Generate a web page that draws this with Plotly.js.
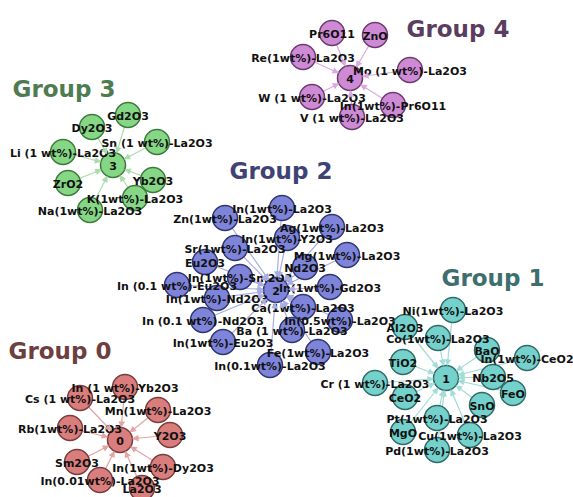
<!DOCTYPE html>
<html><head><meta charset="utf-8">
<script src="https://cdn.plot.ly/plotly-3.0.1.min.js"></script>
<style>html,body{margin:0;padding:0;background:#fff;}</style>
</head><body><div id="chart" style="width:573px;height:497px;"></div>
<script>
// ---- data ----
const groupNames = ["Group 0","Group 1","Group 2","Group 3","Group 4"];
const hubLabels = ["0","1","2","3","4"];
const hubX = [120, 446, 276, 113, 350];
const hubY = [440, 378, 290, 165, 78];
const titleX = [60, 493, 281, 64, 458];
const titleY = [353, 280, 173, 91, 31];

const g0Names = ["In (1 wt%)-Yb2O3","Cs (1 wt%)-La2O3","Mn(1wt%)-La2O3","Rb(1wt%)-La2O3","Y2O3","Sm2O3","In(1wt%)-Dy2O3","In(0.01wt%)-La2O3","La2O3"];
const g0X = [125, 80, 158, 70, 170, 77, 163, 100, 142];
const g0Y = [387, 398, 410, 428, 435, 462, 467, 480, 488];

const g1Names = ["Ni(1wt%)-La2O3","Al2O3","Co(1wt%)-La2O3","BaO","In(1wt%)-CeO2","TiO2","Nb2O5","Cr (1 wt%)-La2O3","CeO2","FeO","SnO","Pt(1wt%)-La2O3","MgO","Cu(1wt%)-La2O3","Pd(1wt%)-La2O3"];
const g1X = [453, 405, 438, 487, 527, 403, 493, 375, 405, 513, 482, 437, 403, 470, 437];
const g1Y = [310, 327, 338, 350, 358, 362, 377, 383, 397, 393, 405, 418, 432, 435, 450];

const g2Names = ["In(1wt%)-La2O3","Zn(1wt%)-La2O3","Ag(1wt%)-La2O3","In(1wt%)-Y2O3","Sr(1wt%)-La2O3","Mg(1wt%)-La2O3","Eu2O3","Nd2O3","In(1wt%)-Sm2O3","In (0.1 wt%)-Eu2O3","In(1wt%)-Gd2O3","In(1wt%)-Nd2O3","Ca(1wt%)-La2O3","In (0.1 wt%)-Nd2O3","In(0.5wt%)-La2O3","Ba (1 wt%)-La2O3","In(1wt%)-Eu2O3","Fe(1wt%)-La2O3","In(0.1wt%)-La2O3"];
const g2X = [282, 225, 332, 287, 235, 347, 205, 305, 240, 177, 330, 217, 303, 203, 340, 292, 223, 318, 270];
const g2Y = [208, 218, 227, 238, 248, 255, 262, 267, 277, 285, 287, 298, 307, 320, 320, 330, 342, 352, 365];

const g3Names = ["Gd2O3","Dy2O3","Sn (1 wt%)-La2O3","Li (1 wt%)-La2O3","ZrO2","Yb2O3","K(1wt%)-La2O3","Na(1wt%)-La2O3"];
const g3X = [128, 92, 157, 63, 68, 153, 135, 90];
const g3Y = [115, 127, 142, 152, 183, 180, 198, 210];

const g4Names = ["Pr6O11","ZnO","Re(1wt%)-La2O3","Mo (1 wt%)-La2O3","W (1 wt%)-La2O3","In(1wt%)-Pr6O11","V (1 wt%)-La2O3"];
const g4X = [332, 375, 303, 410, 312, 393, 352];
const g4Y = [33, 35, 57, 70, 97, 105, 117];

// ---- styles ----
const fillCol = ["#d97d7d","#74d1cc","#7d84da","#85d685","#cf8ad6"];
const lineCol = ["#7a3c3c","#2f6b69","#30366f","#3c7a3c","#6b3a6e"];
const edgeCol = ["#e3a5a5","#a3dcd8","#a9addf","#abdcab","#dba9df"];
const titleCol = ["#6e3f40","#3e6e6d","#3e4374","#4e7b4f","#5b3d60"];

const groupsNames = [g0Names,g1Names,g2Names,g3Names,g4Names];
const groupsX = [g0X,g1X,g2X,g3X,g4X];
const groupsY = [g0Y,g1Y,g2Y,g3Y,g4Y];

const FONT = "DejaVu Sans";
const R = 12;
const traces = [];
const annotations = [];

// edges (lines, under nodes)
for (let g = 0; g < 5; g++) {
  const ex = [], ey = [];
  groupsX[g].forEach((x, i) => { ex.push(x, hubX[g], null); ey.push(groupsY[g][i], hubY[g], null); });
  traces.push({type:'scatter', mode:'lines', x:ex, y:ey, line:{color:edgeCol[g], width:1.2}, hoverinfo:'skip', showlegend:false});
}
// nodes
for (let g = 0; g < 5; g++) {
  traces.push({type:'scatter', mode:'markers', x:groupsX[g].concat([hubX[g]]), y:groupsY[g].concat([hubY[g]]),
    marker:{size:2*R+1, color:fillCol[g], line:{color:lineCol[g], width:1.5}}, hoverinfo:'skip', showlegend:false});
}
// labels
for (let g = 0; g < 5; g++) {
  traces.push({type:'scatter', mode:'text', x:groupsX[g].concat([hubX[g]]), y:groupsY[g].map(v=>v+2).concat([hubY[g]+2]),
    text:groupsNames[g].concat([hubLabels[g]]), textposition:'middle center',
    textfont:{family:FONT, size:11, color:'#111', weight:'bold'}, hoverinfo:'skip', showlegend:false});
}
// titles
traces.push({type:'scatter', mode:'text', x:titleX, y:titleY, text:groupNames, textposition:'middle center',
  textfont:{family:FONT, size:23, color:titleCol, weight:'bold'}, hoverinfo:'skip', showlegend:false});

// arrowheads near hubs
for (let g = 0; g < 5; g++) {
  groupsX[g].forEach((x, i) => {
    const y = groupsY[g][i];
    const dx = x - hubX[g], dy = y - hubY[g];
    const d = Math.sqrt(dx*dx + dy*dy);
    const f = Math.min(1, (R + 9) / d);
    annotations.push({x:hubX[g], y:hubY[g], ax:hubX[g]+dx*f, ay:hubY[g]+dy*f,
      xref:'x', yref:'y', axref:'x', ayref:'y', text:'', showarrow:true,
      arrowhead:2, arrowsize:1.1, arrowwidth:1.2, arrowcolor:edgeCol[g], standoff:R});
  });
}

const layout = {
  width:573, height:497, margin:{l:0,r:0,t:0,b:0},
  paper_bgcolor:'#fff', plot_bgcolor:'#fff', showlegend:false,
  xaxis:{range:[0,573], visible:false, fixedrange:true},
  yaxis:{range:[497,0], visible:false, fixedrange:true},
  annotations:annotations
};
Plotly.newPlot('chart', traces, layout, {displayModeBar:false, staticPlot:true});
</script></body></html>
